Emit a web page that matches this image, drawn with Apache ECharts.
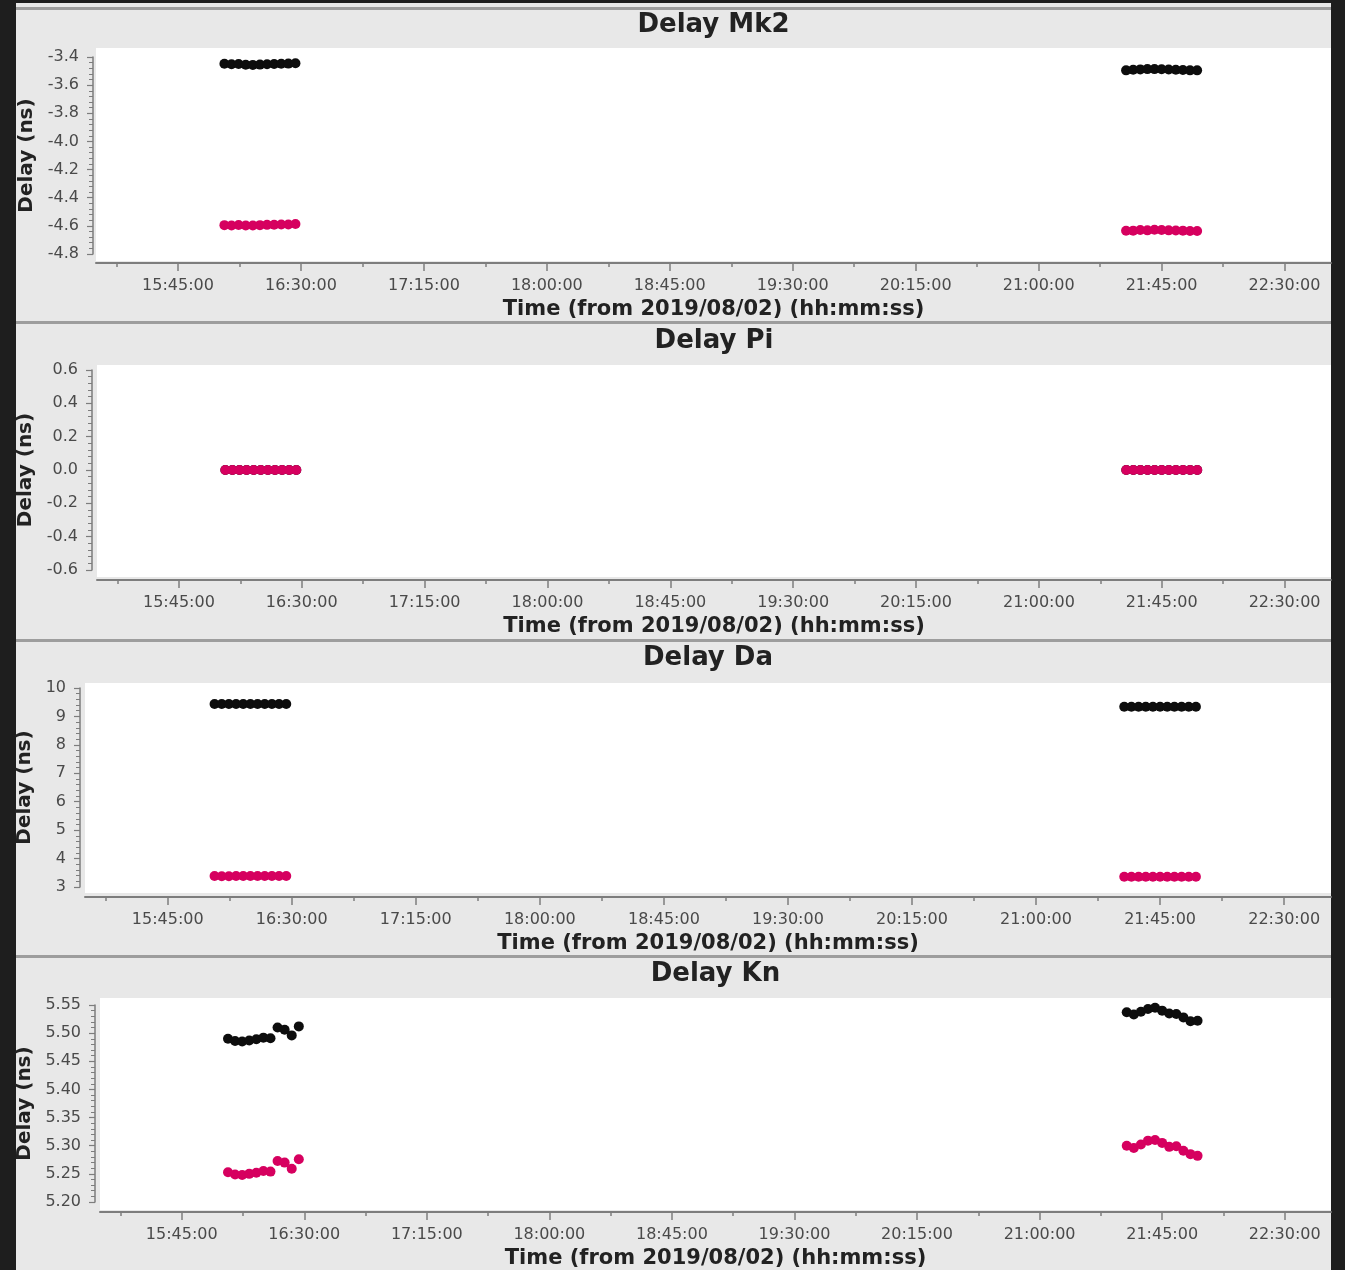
<!DOCTYPE html>
<html>
<head>
<meta charset="utf-8">
<script src="https://cdn.jsdelivr.net/npm/echarts@6/dist/echarts.min.js"></script>
<style>
  html, body { margin: 0; padding: 0; background: #1e1e1e; }
  #chart { width: 1345px; height: 1270px; }
</style>
</head>
<body>
<div id="chart"></div>
<script>
// ---- Data (times are UTC on 2019/08/02, delays in ns) ----
const panelTitles = ['Delay Mk2', 'Delay Pi', 'Delay Da', 'Delay Kn'];

// Scan times of the two observing blocks
const timesA = ['16:02:00', '16:04:36', '16:07:12', '16:09:48', '16:12:24', '16:15:00',
                '16:17:36', '16:20:12', '16:22:48', '16:25:24', '16:28:00'];
const timesB = ['21:32:00', '21:34:36', '21:37:12', '21:39:48', '21:42:24', '21:45:00',
                '21:47:36', '21:50:12', '21:52:48', '21:55:24', '21:58:00'];

// Time axis: labelled ticks, half-way minor ticks, and the visible span
const xTickLabels = ['15:45:00', '16:30:00', '17:15:00', '18:00:00', '18:45:00',
                     '19:30:00', '20:15:00', '21:00:00', '21:45:00', '22:30:00'];
const xMinorTicks = ['15:22:30', '16:07:30', '16:52:30', '17:37:30', '18:22:30',
                     '19:07:30', '19:52:30', '20:37:30', '21:22:30', '22:07:30'];
const xSpan = ['15:15:00', '22:47:00'];

// Delay axis ranges per antenna: [min, max, step]
const mk2Axis = [-4.8, -3.4, 0.2];
const piAxis = [-0.6, 0.6, 0.2];
const daAxis = [3, 10, 1];
const knAxis = [5.20, 5.55, 0.05];

// Mk2
const mk2BlackA = [-3.448, -3.452, -3.450, -3.455, -3.456, -3.454, -3.452, -3.450, -3.448, -3.447, -3.444];
const mk2BlackB = [-3.495, -3.490, -3.488, -3.486, -3.486, -3.487, -3.489, -3.490, -3.493, -3.495, -3.495];
const mk2PinkA  = [-4.595, -4.597, -4.594, -4.598, -4.598, -4.595, -4.593, -4.592, -4.590, -4.590, -4.587];
const mk2PinkB  = [-4.635, -4.634, -4.630, -4.632, -4.628, -4.630, -4.632, -4.633, -4.634, -4.636, -4.636];

// Pi (reference antenna)
const piBlackA = [0, 0, 0, 0, 0, 0, 0, 0, 0, 0, 0];
const piBlackB = [0, 0, 0, 0, 0, 0, 0, 0, 0, 0, 0];
const piPinkA  = [0, 0, 0, 0, 0, 0, 0, 0, 0, 0, 0];
const piPinkB  = [0, 0, 0, 0, 0, 0, 0, 0, 0, 0, 0];

// Da
const daBlackA = [9.44, 9.44, 9.44, 9.44, 9.44, 9.44, 9.44, 9.44, 9.44, 9.44, 9.44];
const daBlackB = [9.34, 9.34, 9.34, 9.34, 9.34, 9.34, 9.34, 9.34, 9.34, 9.34, 9.34];
const daPinkA  = [3.39, 3.38, 3.38, 3.39, 3.39, 3.39, 3.39, 3.39, 3.39, 3.39, 3.39];
const daPinkB  = [3.36, 3.36, 3.36, 3.36, 3.36, 3.36, 3.36, 3.36, 3.36, 3.36, 3.36];

// Kn
const knBlackA = [5.490, 5.486, 5.485, 5.487, 5.489, 5.492, 5.491, 5.510, 5.506, 5.496, 5.512];
const knBlackB = [5.537, 5.533, 5.538, 5.543, 5.545, 5.540, 5.535, 5.534, 5.528, 5.521, 5.522];
const knPinkA  = [5.253, 5.249, 5.248, 5.250, 5.252, 5.255, 5.254, 5.273, 5.270, 5.259, 5.276];
const knPinkB  = [5.300, 5.296, 5.302, 5.309, 5.310, 5.305, 5.298, 5.299, 5.291, 5.285, 5.282];

// ---- Helpers ----
function toMs(hms) {
  const p = hms.split(':').map(Number);
  return Date.UTC(2019, 7, 2, p[0], p[1], p[2] || 0);
}
function two(n) { return (n < 10 ? '0' : '') + n; }
function fmtTime(v) {
  const d = new Date(v);
  return two(d.getUTCHours()) + ':' + two(d.getUTCMinutes()) + ':' + two(d.getUTCSeconds());
}
function pairs(times, vals) { return times.map((t, i) => [toMs(t), vals[i]]); }

const panels = [
  { axis: mk2Axis, dec: 1, black: [mk2BlackA, mk2BlackB], pink: [mk2PinkA, mk2PinkB] },
  { axis: piAxis,  dec: 1, black: [piBlackA, piBlackB],   pink: [piPinkA, piPinkB] },
  { axis: daAxis,  dec: 0, black: [daBlackA, daBlackB],   pink: [daPinkA, daPinkB] },
  { axis: knAxis,  dec: 2, black: [knBlackA, knBlackB],   pink: [knPinkA, knPinkB] }
];

// Page geometry of each stacked panel (pixels)
const frames = [
  { border: 8,   titleY: 25,  wTop: 48,  wBot: 261,  wLeft: 96,  tTop: 57,   tBot: 254,  axisY: 263,  yLine: 93 },
  { border: 322, titleY: 341, wTop: 365, wBot: 577,  wLeft: 97,  tTop: 370,  tBot: 570,  axisY: 580,  yLine: 92 },
  { border: 640, titleY: 658, wTop: 683, wBot: 893,  wLeft: 85,  tTop: 688,  tBot: 887,  axisY: 897,  yLine: 80 },
  { border: 956, titleY: 974, wTop: 998, wBot: 1210, wLeft: 100, tTop: 1005, tBot: 1203, axisY: 1213, yLine: 95 }
];

const PANEL_LEFT = 16, PANEL_RIGHT = 1331, PLOT_RIGHT = 1331;
const FONT = '"DejaVu Sans", "Liberation Sans", sans-serif';
const BLACK = '#0d0d0d';
const PINK = '#d6005f';
const AXIS_GREY = '#7d7d7d';

const grid = [], xAxis = [], yAxis = [], series = [];
const graphic = [
  { type: 'rect', z: -100, shape: { x: PANEL_LEFT, y: 3, width: PANEL_RIGHT - PANEL_LEFT, height: 1267 },
    style: { fill: '#e8e8e8' } }
];

const majorTicks = xTickLabels.map(toMs);
const minorTicks = xMinorTicks.map(toMs);

panels.forEach((p, i) => {
  const f = frames[i];
  graphic.push(
    { type: 'rect', z: -90, shape: { x: PANEL_LEFT, y: f.border - 1, width: PANEL_RIGHT - PANEL_LEFT, height: 3 },
      style: { fill: '#9d9d9d' } },
    { type: 'rect', z: -90, shape: { x: f.wLeft, y: f.wTop, width: PLOT_RIGHT - f.wLeft, height: f.wBot - f.wTop },
      style: { fill: '#ffffff' } },
    { type: 'text', z: 50, x: (f.wLeft + PLOT_RIGHT) / 2, y: f.titleY,
      style: { text: panelTitles[i], font: 'bold 26px ' + FONT, fill: '#222222',
               textAlign: 'center', textVerticalAlign: 'middle' } }
  );

  grid.push({ left: f.wLeft, right: 1345 - PLOT_RIGHT, top: f.tTop, height: f.tBot - f.tTop, containLabel: false });

  const xBase = {
    type: 'value', gridIndex: i, position: 'bottom',
    min: toMs(xSpan[0]), max: toMs(xSpan[1]),
    offset: f.axisY - f.tBot, splitLine: { show: false }
  };
  // labelled axis with major ticks
  xAxis.push(Object.assign({}, xBase, {
    name: 'Time (from 2019/08/02) (hh:mm:ss)',
    nameLocation: 'middle', nameGap: 36,
    nameTextStyle: { fontFamily: FONT, fontWeight: 'bold', fontSize: 21, color: '#222222' },
    axisLine: { show: true, onZero: false, lineStyle: { color: AXIS_GREY, width: 2 } },
    axisTick: { show: true, length: 8, customValues: majorTicks, lineStyle: { color: AXIS_GREY, width: 1.5 } },
    axisLabel: { show: true, customValues: majorTicks, formatter: fmtTime, margin: 15,
                 fontFamily: FONT, fontSize: 16, color: '#4a4a4a' }
  }));
  // half-way minor ticks
  xAxis.push(Object.assign({}, xBase, {
    axisLine: { show: false, onZero: false },
    axisTick: { show: true, length: 4, customValues: minorTicks, lineStyle: { color: AXIS_GREY, width: 1.5 } },
    axisLabel: { show: false, customValues: minorTicks }
  }));

  const dec = p.dec;
  yAxis.push({
    type: 'value', gridIndex: i, position: 'left',
    min: p.axis[0], max: p.axis[1], interval: p.axis[2],
    offset: f.wLeft - f.yLine,
    name: 'Delay (ns)', nameLocation: 'middle', nameGap: f.yLine - 39,
    nameTextStyle: { fontFamily: FONT, fontWeight: 'bold', fontSize: 20, color: '#222222' },
    splitLine: { show: false },
    axisLine: { show: true, onZero: false, lineStyle: { color: AXIS_GREY, width: 1.5 } },
    axisTick: { show: true, length: 6, lineStyle: { color: AXIS_GREY, width: 1.2 } },
    minorTick: { show: true, splitNumber: 5, length: 4, lineStyle: { color: AXIS_GREY, width: 1 } },
    axisLabel: { margin: 14, fontFamily: FONT, fontSize: 16, color: '#4a4a4a',
                 formatter: v => Number(v).toFixed(dec) }
  });

  const xi = i * 2;
  [[p.black, BLACK], [p.pink, PINK]].forEach(([blocks, color]) => {
    [timesA, timesB].forEach((times, b) => {
      series.push({
        type: 'scatter', xAxisIndex: xi, yAxisIndex: i,
        symbol: 'circle', symbolSize: 10,
        itemStyle: { color: color, opacity: 1 },
        emphasis: { disabled: true },
        data: pairs(times, blocks[b])
      });
    });
  });
});

const chart = echarts.init(document.getElementById('chart'), null, { renderer: 'canvas' });
chart.setOption({
  backgroundColor: '#1e1e1e',
  animation: false,
  graphic: graphic,
  grid: grid,
  xAxis: xAxis,
  yAxis: yAxis,
  series: series
});
</script>
</body>
</html>
